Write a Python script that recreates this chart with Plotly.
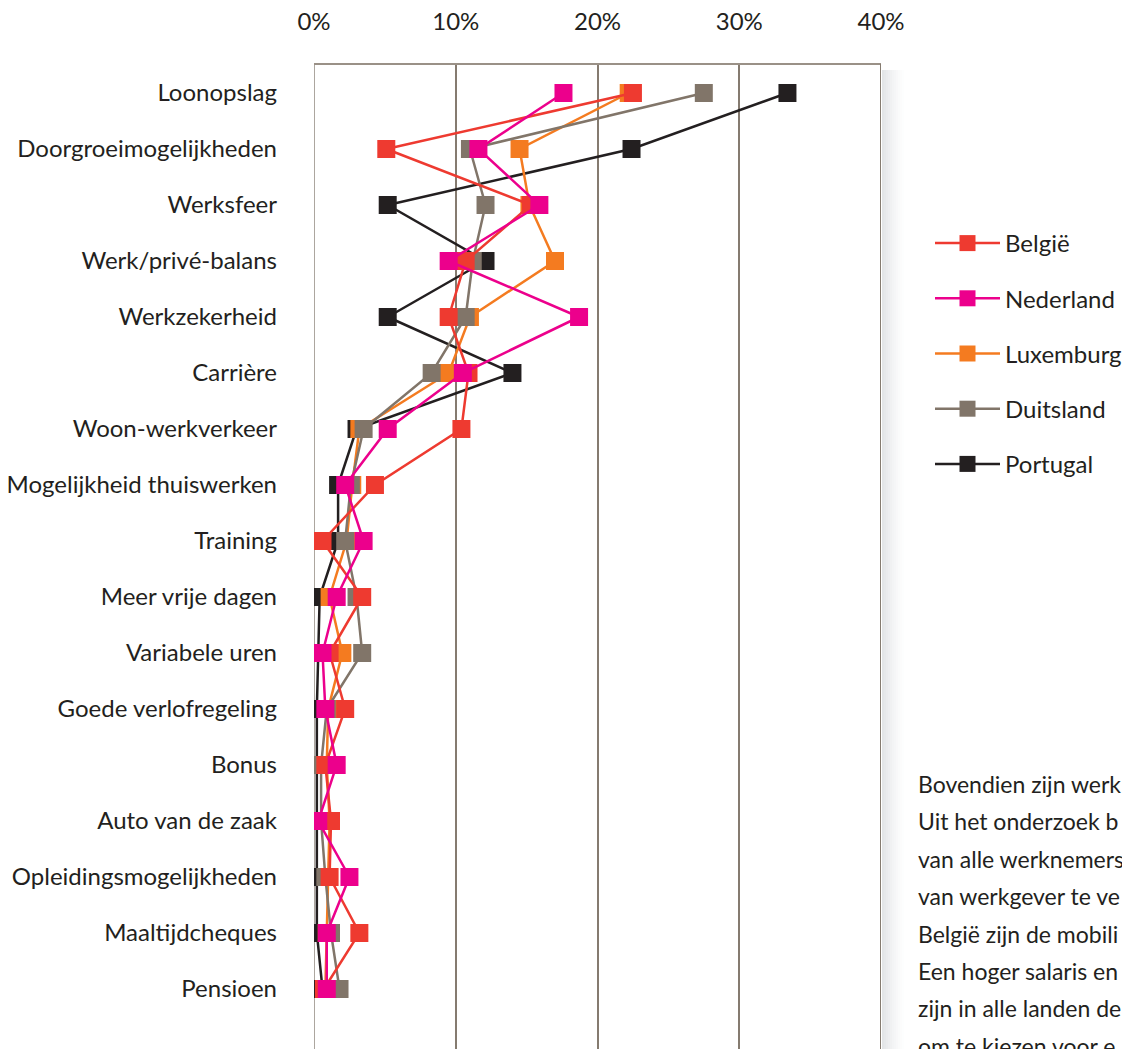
import plotly.graph_objects as go

# Reasons to change employer, share of employees per country (%)
categories = [
    "Loonopslag",
    "Doorgroeimogelijkheden",
    "Werksfeer",
    "Werk/privé-balans",
    "Werkzekerheid",
    "Carrière",
    "Woon-werkverkeer",
    "Mogelijkheid thuiswerken",
    "Training",
    "Meer vrije dagen",
    "Variabele uren",
    "Goede verlofregeling",
    "Bonus",
    "Auto van de zaak",
    "Opleidingsmogelijkheden",
    "Maaltijdcheques",
    "Pensioen",
]

belgie = [22.5, 5.1, 15.3, 10.7, 9.5, 10.9, 10.4, 4.3, 0.6, 3.4, 1.1, 2.2, 0.8, 1.2, 1.1, 3.2, 0.7]
nederland = [17.6, 11.6, 15.9, 9.5, 18.7, 10.5, 5.2, 2.2, 3.5, 1.6, 0.6, 0.8, 1.6, 0.3, 2.5, 0.9, 0.9]
luxemburg = [22.2, 14.5, 15.2, 17.0, 11.0, 9.5, 3.2, 2.7, 2.3, 1.1, 2.0, 1.0, 0.9, 1.1, 1.0, 0.9, 0.8]
duitsland = [27.5, 11.0, 12.1, 11.2, 10.7, 8.3, 3.5, 2.6, 2.2, 3.0, 3.4, 0.9, 0.5, 0.5, 0.8, 1.2, 1.8]
portugal = [33.4, 22.4, 5.2, 12.1, 5.2, 14.0, 3.0, 1.7, 1.7, 0.4, 0.3, 0.2, 0.2, 0.2, 0.2, 0.2, 0.6]

x_ticks = [0, 10, 20, 30, 40]
x_tick_labels = ["0%", "10%", "20%", "30%", "40%"]

paragraph_lines = [
    "Bovendien zijn werk",
    "Uit het onderzoek b",
    "van alle werknemers",
    "van werkgever te ve",
    "België zijn de mobili",
    "Een hoger salaris en",
    "zijn in alle landen de",
    "om te kiezen voor e",
]

FONT = "Lato, 'Open Sans', sans-serif"
TEXT = "#231f20"
LABEL_SIZE = 24

# name, values, colour, legend position
series = {
    "België": (belgie, "#ee3a30", 1),
    "Nederland": (nederland, "#ec008c", 2),
    "Luxemburg": (luxemburg, "#f47b20", 3),
    "Duitsland": (duitsland, "#817569", 4),
    "Portugal": (portugal, "#231f20", 5),
}
# stacking order of the marks, bottom to top
draw_order = ["Portugal", "Luxemburg", "Duitsland", "België", "Nederland"]

fig = go.Figure()
for name in draw_order:
    values, colour, rank = series[name]
    fig.add_trace(
        go.Scatter(
            x=values,
            y=categories,
            name=name,
            mode="lines+markers",
            line=dict(color=colour, width=2.5),
            marker=dict(symbol="square", size=18, color=colour, line=dict(width=0)),
            legendrank=rank,
            legendgroup=name,
        )
    )

W, H = 1122, 1049
ML, MR, MT, MB = 314, 241, 64, 0
plot_w = W - ML - MR
plot_h = H - MT - MB
row_px = 56.0
top_pad = 29.0
y_top = -top_pad / row_px
y_bottom = y_top + plot_h / row_px

shapes = []
# soft drop shadow along the right side of the plot frame
for i in range(12):
    shapes.append(
        dict(
            type="rect",
            xref="paper",
            yref="paper",
            x0=1 + (1 + 2 * i) / plot_w,
            x1=1 + (3 + 2 * i) / plot_w,
            y0=0,
            y1=1 - 6 / plot_h,
            fillcolor="#9aa0a8",
            opacity=0.28 * (1 - i / 12) ** 1.6,
            line=dict(width=0),
            layer="below",
        )
    )
# frame: top edge, light left edge, right edge
shapes.append(dict(type="line", xref="paper", yref="paper", x0=0, x1=1, y0=1, y1=1,
                   line=dict(color="#9a9187", width=2)))
shapes.append(dict(type="line", xref="x", yref="paper", x0=0, x1=0, y0=0, y1=1,
                   line=dict(color="#aca69f", width=2), layer="below"))
shapes.append(dict(type="line", xref="x", yref="paper", x0=40, x1=40, y0=0, y1=1,
                   line=dict(color="#857b70", width=2)))

annotations = []
for i, line in enumerate(paragraph_lines):
    y_px = 784 + i * 37.4
    annotations.append(
        dict(
            text=line,
            xref="paper",
            yref="paper",
            x=(916 - ML) / plot_w,
            y=1 - (y_px - MT) / plot_h,
            xanchor="left",
            yanchor="middle",
            showarrow=False,
            font=dict(family=FONT, size=23, color=TEXT),
        )
    )

fig.update_layout(
    width=W,
    height=H,
    margin=dict(l=ML, r=MR, t=MT, b=MB, autoexpand=False),
    paper_bgcolor="white",
    plot_bgcolor="white",
    font=dict(family=FONT, size=LABEL_SIZE, color=TEXT),
    showlegend=True,
    legend=dict(
        x=(930 - ML) / plot_w,
        y=1 - (221 - MT) / plot_h,
        xanchor="left",
        yanchor="top",
        font=dict(family=FONT, size=LABEL_SIZE, color=TEXT),
        tracegroupgap=21,
        itemwidth=65,
        bgcolor="rgba(0,0,0,0)",
    ),
    xaxis=dict(
        range=[0, 40],
        side="top",
        tickvals=x_ticks,
        ticktext=x_tick_labels,
        showgrid=True,
        gridcolor="#857b70",
        gridwidth=2,
        zeroline=False,
        showline=False,
        ticks="",
        ticklabelstandoff=28,
        tickfont=dict(family=FONT, size=LABEL_SIZE, color=TEXT),
        fixedrange=True,
    ),
    yaxis=dict(
        type="category",
        categoryorder="array",
        categoryarray=categories,
        range=[y_bottom, y_top],
        showgrid=False,
        zeroline=False,
        showline=False,
        ticks="",
        ticklabelstandoff=36,
        tickfont=dict(family=FONT, size=LABEL_SIZE, color=TEXT),
        fixedrange=True,
    ),
    shapes=shapes,
    annotations=annotations,
)

fig.write_html("out.html")
